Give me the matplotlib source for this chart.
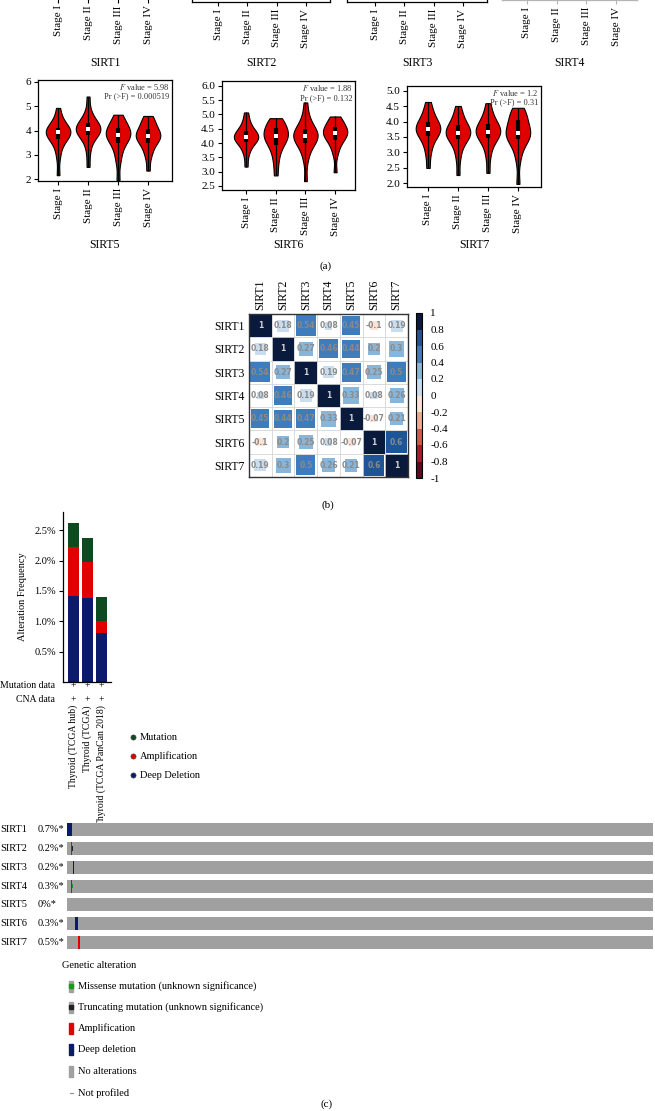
import numpy as np
import matplotlib.pyplot as plt
import matplotlib.transforms as mtrans
from matplotlib.patches import Rectangle
from matplotlib.colors import ListedColormap, BoundaryNorm
from matplotlib.cm import ScalarMappable

plt.rcParams['font.family'] = ['Liberation Serif', 'DejaVu Serif']
plt.rcParams['mathtext.fontset'] = 'stix'

W, H = 655, 1111

genes = ['SIRT1', 'SIRT2', 'SIRT3', 'SIRT4', 'SIRT5', 'SIRT6', 'SIRT7']
stages = ['Stage I', 'Stage II', 'Stage III', 'Stage IV']

# expression per stage (values estimated from the violin shapes)
sirt5_expr = [
    [2.16, 2.9, 3.3, 3.5, 3.65, 3.75, 3.82, 3.88, 3.92, 3.96, 4.0, 4.05, 4.12, 4.2, 4.35, 4.55, 4.93],
    [2.5, 3.1, 3.5, 3.7, 3.82, 3.9, 3.97, 4.02, 4.05, 4.1, 4.15, 4.2, 4.3, 4.4, 4.55, 4.8, 5.4],
    [1.95, 2.7, 3.05, 3.3, 3.5, 3.62, 3.72, 3.78, 3.82, 3.88, 3.95, 4.02, 4.1, 4.2, 4.35, 4.5, 4.65],
    [2.35, 2.9, 3.15, 3.35, 3.5, 3.6, 3.68, 3.74, 3.78, 3.83, 3.9, 3.98, 4.08, 4.2, 4.35, 4.48, 4.6],
]
sirt6_expr = [
    [3.18, 3.6, 3.8, 3.95, 4.05, 4.1, 4.15, 4.18, 4.21, 4.25, 4.3, 4.35, 4.42, 4.5, 4.62, 4.8, 5.07],
    [2.87, 3.3, 3.6, 3.8, 3.95, 4.05, 4.12, 4.2, 4.25, 4.3, 4.37, 4.45, 4.52, 4.6, 4.7, 4.8, 4.87],
    [2.67, 3.4, 3.7, 3.9, 4.02, 4.1, 4.16, 4.21, 4.25, 4.3, 4.35, 4.42, 4.5, 4.6, 4.75, 5.0, 5.42],
    [2.98, 3.6, 3.85, 4.0, 4.12, 4.2, 4.26, 4.31, 4.35, 4.4, 4.45, 4.5, 4.57, 4.65, 4.75, 4.85, 4.93],
]
sirt7_expr = [
    [2.49, 2.95, 3.2, 3.4, 3.52, 3.6, 3.67, 3.72, 3.76, 3.8, 3.86, 3.93, 4.0, 4.1, 4.25, 4.4, 4.64],
    [2.26, 2.8, 3.1, 3.3, 3.42, 3.5, 3.56, 3.6, 3.63, 3.68, 3.73, 3.8, 3.88, 3.98, 4.1, 4.28, 4.51],
    [2.33, 2.85, 3.15, 3.33, 3.45, 3.53, 3.6, 3.64, 3.67, 3.72, 3.78, 3.85, 3.92, 4.02, 4.15, 4.32, 4.6],
    [1.97, 2.75, 3.1, 3.3, 3.42, 3.5, 3.56, 3.6, 3.63, 3.7, 3.8, 3.92, 4.05, 4.15, 4.25, 4.35, 4.45],
]
f_value = ['5.98', '1.88', '1.2']
pr_f = ['0.000519', '0.132', '0.31']

corr = np.array([
    [1, 0.18, 0.54, 0.08, 0.45, -0.1, 0.19],
    [0.18, 1, 0.27, 0.46, 0.44, 0.2, 0.3],
    [0.54, 0.27, 1, 0.19, 0.47, 0.25, 0.5],
    [0.08, 0.46, 0.19, 1, 0.33, 0.08, 0.26],
    [0.45, 0.44, 0.47, 0.33, 1, -0.07, 0.21],
    [-0.1, 0.2, 0.25, 0.08, -0.07, 1, 0.6],
    [0.19, 0.3, 0.5, 0.26, 0.21, 0.6, 1],
])
cb_ticks = [-1, -0.8, -0.6, -0.4, -0.2, 0, 0.2, 0.4, 0.6, 0.8, 1]
corr_colors = ['#5e0a1e', '#a61c2a', '#cf5a46', '#f2a88a', '#fde2d6',
               '#c9ddee', '#88b5da', '#3f7cbb', '#1e5596', '#0a1a3c']

studies = ['Thyroid (TCGA hub)', 'Thyroid (TCGA)', 'Thyroid (TCGA PanCan 2018)']
deep_del = [1.41, 1.39, 0.80]
amplif = [0.81, 0.58, 0.20]
mutation = [0.40, 0.40, 0.40]

alt_pct = [0.7, 0.2, 0.2, 0.3, 0, 0.3, 0.5]
n_samples = 500
del_samples = [[0, 1, 2, 3], [], [5], [], [], [7, 8], []]
amp_samples = [[], [3], [], [3], [], [], [9, 10]]
missense_samples = [[], [], [], [4], [], [], []]
trunc_samples = [[], [4], [], [], [], [], []]

NAVY = '#0b1a6a'
RED = '#e00000'
GREEN = '#0e4a1f'


def px(l, t, r, b):
    return [l / W, 1 - b / H, (r - l) / W, (b - t) / H]


fig = plt.figure(figsize=(W / 100, H / 100), dpi=100)
ov = fig.add_axes([0, 0, 1, 1])
ov.set_xlim(0, W)
ov.set_ylim(H, 0)
ov.axis('off')


def stage_axis(ax, xlim, col='black'):
    ax.set_xlim(*xlim)
    ax.set_xticks([1, 2, 3, 4])
    ax.set_xticklabels(stages, rotation=90, fontsize=8)
    ax.tick_params(axis='both', length=3, width=0.8, labelsize=8, pad=2, color=col)
    for s in ax.spines.values():
        s.set_color(col)
        s.set_linewidth(0.9)


# (a) top row: only the bottom of these panels is inside the picture
top_row = [('SIRT1', 38, 172, -1.5, (0.33, 4.8), 'black'),
           ('SIRT2', 192, 330, 2, (0.11, 4.82), 'black'),
           ('SIRT3', 347, 487, 2, (0.04, 4.82), 'black'),
           ('SIRT4', 502, 637, 0, (0.16, 4.7), '#b5b5b5')]
for name, l, r, b, xl, col in top_row:
    ax = fig.add_axes(px(l, b - 100, r, b))
    stage_axis(ax, xl, col)
    ax.set_yticks([])
    ov.text((l + r) / 2, 63, name, ha='center', va='center', fontsize=8.5)

# (a) bottom row violins
bottom_row = [('SIRT5', sirt5_expr, (38, 80, 172, 181), (0.33, 4.8), (1.92, 6.08), [2, 3, 4, 5, 6], '%d'),
              ('SIRT6', sirt6_expr, (222, 81, 355, 190), (0.19, 4.67), (2.36, 6.17),
               [2.5, 3.0, 3.5, 4.0, 4.5, 5.0, 5.5, 6.0], '%.1f'),
              ('SIRT7', sirt7_expr, (407, 86, 541, 187), (0.3, 4.77), (1.87, 5.16),
               [2.0, 2.5, 3.0, 3.5, 4.0, 4.5, 5.0], '%.1f')]
for k, (name, expr, box, xl, yl, yt, fmt) in enumerate(bottom_row):
    ax = fig.add_axes(px(*box))
    pos = [1, 2, 3, 4]
    parts = ax.violinplot(expr, positions=pos, widths=0.82, showextrema=False, bw_method=0.45)
    for body in parts['bodies']:
        body.set_facecolor(RED)
        body.set_edgecolor('black')
        body.set_linewidth(0.8)
        body.set_alpha(1)
    q1 = [np.percentile(e, 25) for e in expr]
    q3 = [np.percentile(e, 75) for e in expr]
    med = [np.median(e) for e in expr]
    ax.vlines(pos, [min(e) for e in expr], [max(e) for e in expr], color='black', lw=0.9, zorder=3)
    ax.vlines(pos, q1, q3, color='black', lw=3, zorder=3)
    ax.scatter(pos, med, color='white', s=5, marker='s', zorder=4, linewidths=0)
    stage_axis(ax, xl)
    ax.set_ylim(*yl)
    ax.set_yticks(yt)
    ax.set_yticklabels([fmt % v for v in yt])
    ax.text(0.98, 0.98, r'$F$ value = ' + f_value[k], transform=ax.transAxes,
            ha='right', va='top', fontsize=6, color='#333333', zorder=5)
    ax.text(0.98, 0.88, 'Pr (>F) = ' + pr_f[k], transform=ax.transAxes,
            ha='right', va='top', fontsize=6, color='#333333', zorder=5)
    ov.text((box[0] + box[2]) / 2, 245, name, ha='center', va='center', fontsize=8.5)

ov.text(326, 266, '(a)', ha='center', va='center', fontsize=8)

# (b) correlation plot
cmap = ListedColormap(corr_colors)
norm = BoundaryNorm(cb_ticks, cmap.N)
hx = fig.add_axes(px(249, 314, 408, 477))
n = len(genes)
for i in range(n):
    for j in range(n):
        r = corr[i, j]
        s = min(1.0, 1.2 * np.sqrt(abs(r)))
        hx.add_patch(Rectangle((j - s / 2, i - s / 2), s, s, facecolor=cmap(norm(r)), edgecolor='none'))
        hx.text(j, i, '%g' % r, ha='center', va='center', fontsize=5.5, fontweight='bold',
                color='#d0d0d0' if r == 1 else '#8a8a8a', family='DejaVu Sans')
for k in range(n + 1):
    hx.axhline(k - 0.5, color='#d4d4d4', lw=0.6)
    hx.axvline(k - 0.5, color='#d4d4d4', lw=0.6)
hx.set_xlim(-0.5, n - 0.5)
hx.set_ylim(n - 0.5, -0.5)
hx.set_xticks(range(n))
hx.set_xticklabels(genes, rotation=90, fontsize=8.5)
hx.set_yticks(range(n))
hx.set_yticklabels(genes, fontsize=8.5)
hx.xaxis.tick_top()
hx.tick_params(length=0, pad=3)
for s in hx.spines.values():
    s.set_color('#333333')
    s.set_linewidth(1)

cax = fig.add_axes(px(416, 313, 422, 478))
cb = fig.colorbar(ScalarMappable(norm=norm, cmap=cmap), cax=cax, ticks=cb_ticks)
cb.ax.set_yticklabels(['%g' % t for t in cb_ticks])
cb.ax.tick_params(length=0, labelsize=8, pad=6)
cb.outline.set_linewidth(0.8)

ov.text(328, 505, '(b)', ha='center', va='center', fontsize=8)

# (c) alteration frequency bars
bx = fig.add_axes(px(63, 512, 111, 682))
xb = np.arange(len(studies))
bx.bar(xb, deep_del, width=0.79, color=NAVY)
bx.bar(xb, amplif, width=0.79, bottom=deep_del, color=RED)
bx.bar(xb, mutation, width=0.79, bottom=np.add(deep_del, amplif), color=GREEN)
bx.set_xlim(-0.75, 2.68)
bx.set_ylim(0, 2.8)
yt = [0.5, 1.0, 1.5, 2.0, 2.5]
bx.set_yticks(yt)
bx.set_yticklabels(['%.1f%%' % v for v in yt])
bx.set_xticks([])
bx.tick_params(axis='y', length=3, width=0.8, labelsize=7.5, pad=2)
for side in ['top', 'right']:
    bx.spines[side].set_visible(False)
for side in ['left', 'bottom']:
    bx.spines[side].set_linewidth(0.9)
bx.set_ylabel('Alteration Frequency', fontsize=7.5)
bx.yaxis.set_label_coords(-0.76, 0.5)

tr = mtrans.blended_transform_factory(bx.transData, ov.transData)
ov.text(55, 686, 'Mutation data', ha='right', va='center', fontsize=7)
ov.text(55, 700, 'CNA data', ha='right', va='center', fontsize=7)
for i, st in enumerate(studies):
    ov.text(i, 686, '+', transform=tr, ha='center', va='center', fontsize=7)
    ov.text(i, 700, '+', transform=tr, ha='center', va='center', fontsize=7)
    ov.text(i, 705, st, transform=tr, ha='center', va='top', rotation=90, fontsize=7)

for lab, col, y in zip(['Mutation', 'Amplification', 'Deep Deletion'], [GREEN, RED, NAVY], [737, 756, 775]):
    ov.scatter([133], [y], s=14, color=col, edgecolors='#444444', linewidths=0.4)
    ov.text(140, y, lab, ha='left', va='center', fontsize=7.5)

# (c) oncoprint
ox = fig.add_axes(px(67, 820.6, 653, 951.5))
rows = np.arange(len(genes))
ox.barh(rows, n_samples, left=0, height=0.7, color='#a0a0a0')
for g in rows:
    ox.bar(del_samples[g], 0.7, bottom=g - 0.35, width=1.3, align='edge', color=NAVY)
    ox.bar(amp_samples[g], 0.7, bottom=g - 0.35, width=1.3, align='edge', color=RED)
    ox.bar(missense_samples[g], 0.25, bottom=g - 0.125, width=1.3, align='edge', color='#1a9a1a')
    ox.bar(trunc_samples[g], 0.25, bottom=g - 0.125, width=1.3, align='edge', color='#222222')
ox.scatter([n_samples + 3] * len(genes), rows, marker='_', s=6, color='#909090', clip_on=False)
ox.set_xlim(0, n_samples)
ox.set_ylim(len(genes) - 0.5, -0.5)
ox.axis('off')

tg = mtrans.blended_transform_factory(ov.transData, ox.transData)
for g in rows:
    ov.text(0, g, genes[g], transform=tg, ha='left', va='center', fontsize=7.5)
    ov.text(38, g, '%g%%*' % alt_pct[g], transform=tg, ha='left', va='center', fontsize=7.5)

# oncoprint legend
ov.text(62, 965, 'Genetic alteration', ha='left', va='center', fontsize=7.5)
leg_labels = ['Missense mutation (unknown significance)', 'Truncating mutation (unknown significance)',
              'Amplification', 'Deep deletion', 'No alterations', 'Not profiled']
leg_y = [986, 1007, 1028, 1049, 1071, 1093]
for lab, y in zip(leg_labels, leg_y):
    ov.text(78, y, lab, ha='left', va='center', fontsize=7.5)
ov.add_patch(Rectangle((69, leg_y[0] - 5.5), 4, 11, color='#a0a0a0'))
ov.add_patch(Rectangle((69, leg_y[0] - 2), 4, 4, color='#1a9a1a'))
ov.add_patch(Rectangle((69, leg_y[1] - 5.5), 4, 11, color='#a0a0a0'))
ov.add_patch(Rectangle((69, leg_y[1] - 2), 4, 4, color='#222222'))
ov.add_patch(Rectangle((69, leg_y[2] - 5.5), 4, 11, color=RED))
ov.add_patch(Rectangle((69, leg_y[3] - 5.5), 4, 11, color=NAVY))
ov.add_patch(Rectangle((69, leg_y[4] - 5.5), 4, 11, color='#a0a0a0'))
ov.plot([69.5, 72.5], [leg_y[5], leg_y[5]], color='#909090', lw=0.8)

ov.text(327, 1104, '(c)', ha='center', va='center', fontsize=8)

fig.savefig('out.png', dpi=100)
